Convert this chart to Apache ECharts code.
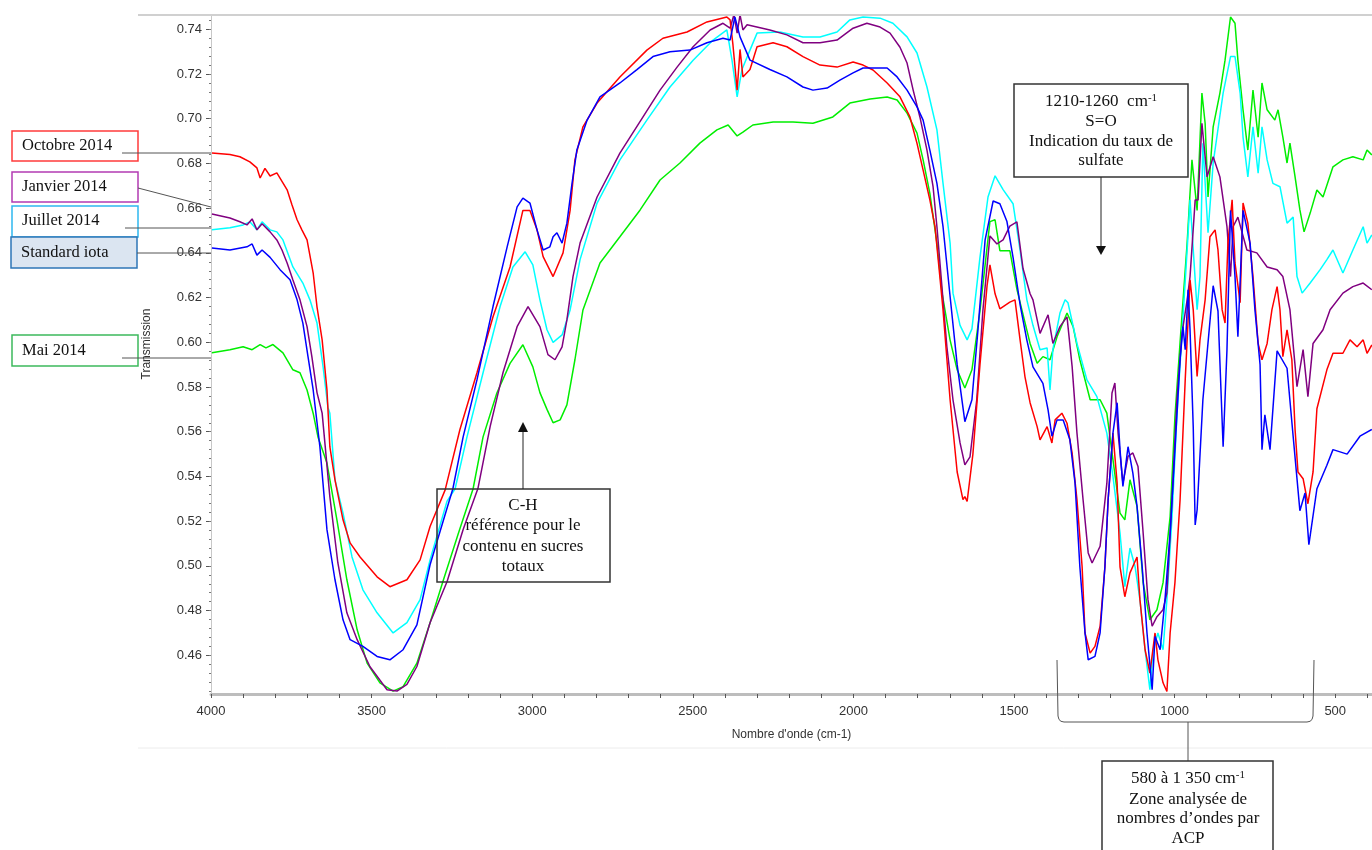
<!DOCTYPE html>
<html><head><meta charset="utf-8">
<script src="https://cdn.jsdelivr.net/npm/echarts@6/dist/echarts.min.js"></script>
<style>html,body{margin:0;padding:0;background:#fff}#c{width:1372px;height:850px}</style>
</head><body><div id="c"></div>
<script>
// Tick labels
const xLabelValues = [4000,3500,3000,2500,2000,1500,1000,500];
const yLabelValues = [0.46,0.48,0.50,0.52,0.54,0.56,0.58,0.60,0.62,0.64,0.66,0.68,0.70,0.72,0.74];

// Series: [wavenumber cm-1, transmission]
const octobre2014 = [[3997,0.6847],[3941,0.684],[3910,0.683],[3879,0.6807],[3857,0.678],[3847,0.6735],[3832,0.6778],[3816,0.6744],[3795,0.6758],[3779,0.672],[3763,0.6682],[3748,0.6615],[3732,0.6548],[3717,0.6503],[3701,0.6458],[3682,0.6311],[3670,0.6159],[3654,0.6011],[3639,0.5788],[3630,0.5533],[3614,0.5385],[3589,0.5206],[3567,0.5103],[3536,0.504],[3483,0.4951],[3443,0.4907],[3390,0.4938],[3349,0.5027],[3318,0.5176],[3271,0.534],[3225,0.561],[3172,0.5864],[3122,0.6114],[3069,0.6337],[3029,0.659],[3007,0.659],[2985,0.6503],[2966,0.6383],[2935,0.6294],[2904,0.64],[2882,0.659],[2867,0.6816],[2842,0.6964],[2798,0.707],[2727,0.7187],[2643,0.7307],[2593,0.736],[2518,0.7388],[2456,0.7433],[2394,0.7455],[2384,0.7442],[2375,0.733],[2362,0.7128],[2353,0.731],[2344,0.7187],[2322,0.722],[2300,0.7322],[2250,0.734],[2207,0.7322],[2157,0.7278],[2104,0.724],[2051,0.7231],[2001,0.7254],[1970,0.724],[1939,0.7218],[1895,0.716],[1855,0.7098],[1824,0.7008],[1802,0.689],[1783,0.677],[1762,0.6637],[1746,0.6517],[1730,0.628],[1721,0.6145],[1699,0.5743],[1677,0.542],[1659,0.5296],[1653,0.531],[1646,0.5288],[1628,0.55],[1606,0.59],[1584,0.6252],[1575,0.6346],[1559,0.6217],[1544,0.615],[1513,0.618],[1497,0.619],[1481,0.601],[1466,0.5847],[1450,0.573],[1428,0.5623],[1419,0.5564],[1397,0.5623],[1382,0.555],[1372,0.5653],[1351,0.5683],[1335,0.5638],[1319,0.5504],[1304,0.5296],[1288,0.4996],[1279,0.47],[1263,0.461],[1248,0.464],[1232,0.473],[1217,0.4996],[1207,0.5296],[1192,0.5594],[1179,0.537],[1170,0.4996],[1155,0.4862],[1139,0.4969],[1117,0.504],[1108,0.4849],[1092,0.4625],[1077,0.4521],[1061,0.47],[1052,0.458],[1036,0.4477],[1024,0.4438],[1014,0.47],[999,0.4925],[983,0.5296],[967,0.5832],[952,0.628],[942,0.6145],[930,0.5847],[921,0.6011],[905,0.619],[890,0.6472],[874,0.6503],[865,0.6413],[852,0.6145],[843,0.6086],[834,0.6444],[821,0.6637],[812,0.6355],[796,0.6177],[787,0.6623],[772,0.6533],[756,0.6294],[740,0.5995],[728,0.5922],[712,0.5995],[697,0.6146],[681,0.6249],[672,0.6146],[663,0.5936],[650,0.6056],[635,0.5922],[625,0.561],[616,0.542],[600,0.539],[585,0.5278],[569,0.542],[557,0.5703],[526,0.5877],[507,0.5951],[476,0.5951],[454,0.6011],[432,0.598],[413,0.6011],[401,0.5951],[386,0.5988]];

const janvier2014 = [[3997,0.6574],[3941,0.6556],[3910,0.6539],[3888,0.6525],[3872,0.6552],[3857,0.6503],[3841,0.653],[3816,0.6494],[3795,0.6458],[3779,0.6413],[3763,0.6355],[3745,0.6279],[3723,0.619],[3701,0.607],[3686,0.5936],[3670,0.5775],[3654,0.5683],[3630,0.531],[3605,0.5013],[3577,0.479],[3545,0.467],[3505,0.4549],[3452,0.4446],[3421,0.444],[3390,0.447],[3359,0.455],[3318,0.4746],[3265,0.493],[3215,0.5163],[3169,0.5346],[3131,0.5623],[3091,0.5864],[3047,0.607],[3013,0.616],[2976,0.607],[2951,0.5945],[2929,0.5922],[2907,0.598],[2892,0.61],[2873,0.6294],[2851,0.6444],[2798,0.665],[2727,0.6846],[2655,0.7008],[2602,0.7128],[2549,0.7231],[2499,0.7322],[2446,0.7397],[2406,0.7427],[2384,0.7405],[2372,0.7465],[2362,0.7383],[2353,0.7465],[2344,0.7397],[2331,0.742],[2260,0.7397],[2207,0.7375],[2157,0.734],[2104,0.734],[2051,0.7352],[2001,0.7405],[1958,0.7427],[1917,0.741],[1886,0.7383],[1855,0.732],[1833,0.7249],[1814,0.7128],[1793,0.7008],[1771,0.686],[1752,0.6696],[1740,0.6517],[1730,0.6346],[1709,0.598],[1690,0.5743],[1668,0.555],[1653,0.5452],[1637,0.5488],[1616,0.5743],[1597,0.614],[1575,0.6476],[1553,0.644],[1534,0.6458],[1513,0.652],[1491,0.6539],[1472,0.633],[1450,0.6217],[1441,0.619],[1419,0.604],[1394,0.6123],[1379,0.5995],[1357,0.607],[1335,0.6114],[1319,0.589],[1304,0.5594],[1285,0.5296],[1269,0.5058],[1257,0.5013],[1232,0.5088],[1211,0.537],[1195,0.5773],[1186,0.5818],[1176,0.5594],[1161,0.537],[1145,0.549],[1130,0.5505],[1114,0.5445],[1098,0.5147],[1083,0.4849],[1070,0.473],[1055,0.4773],[1036,0.4804],[1024,0.488],[1008,0.5296],[993,0.5743],[977,0.604],[961,0.619],[952,0.6294],[936,0.6637],[927,0.6637],[915,0.698],[899,0.674],[880,0.683],[859,0.674],[837,0.6517],[826,0.6294],[818,0.6517],[803,0.656],[775,0.6413],[744,0.64],[712,0.6337],[681,0.6325],[663,0.6294],[641,0.6146],[619,0.5802],[600,0.5967],[585,0.5757],[569,0.5995],[538,0.6056],[516,0.6146],[476,0.622],[445,0.6249],[413,0.6265],[386,0.6235]];

const juillet2014 = [[3997,0.6503],[3941,0.6512],[3900,0.6525],[3879,0.6539],[3857,0.6503],[3841,0.6539],[3816,0.6503],[3795,0.6494],[3776,0.6458],[3745,0.6337],[3714,0.6265],[3692,0.619],[3670,0.6086],[3651,0.589],[3636,0.571],[3630,0.5683],[3614,0.5385],[3589,0.5236],[3561,0.504],[3527,0.4893],[3483,0.479],[3433,0.47],[3390,0.4746],[3349,0.4849],[3318,0.5027],[3265,0.529],[3240,0.5345],[3203,0.5577],[3153,0.5864],[3100,0.616],[3060,0.6337],[3022,0.6405],[2998,0.6346],[2976,0.619],[2954,0.6056],[2935,0.6],[2907,0.6033],[2882,0.6145],[2851,0.637],[2798,0.6623],[2727,0.6816],[2643,0.6994],[2571,0.7142],[2499,0.7262],[2437,0.7352],[2394,0.7397],[2378,0.7262],[2362,0.7098],[2347,0.722],[2322,0.7307],[2300,0.7383],[2229,0.7388],[2157,0.7366],[2104,0.7366],[2051,0.7388],[2011,0.7442],[1970,0.7455],[1917,0.745],[1877,0.7427],[1833,0.7366],[1802,0.7294],[1771,0.7142],[1740,0.695],[1721,0.6711],[1699,0.6444],[1690,0.622],[1668,0.6076],[1646,0.6011],[1631,0.606],[1606,0.638],[1581,0.665],[1559,0.6745],[1534,0.6683],[1503,0.662],[1481,0.641],[1460,0.619],[1441,0.6076],[1419,0.5967],[1397,0.5975],[1388,0.5787],[1379,0.5967],[1357,0.6131],[1341,0.619],[1332,0.6177],[1304,0.5995],[1273,0.5832],[1242,0.5757],[1211,0.5594],[1192,0.54],[1170,0.5147],[1155,0.4907],[1139,0.508],[1123,0.4996],[1108,0.4849],[1092,0.4625],[1077,0.4446],[1067,0.4625],[1052,0.47],[1036,0.4625],[1024,0.4849],[1008,0.522],[993,0.5668],[977,0.604],[961,0.6414],[952,0.6637],[930,0.6146],[921,0.6294],[912,0.689],[896,0.649],[880,0.6802],[849,0.7115],[826,0.7278],[812,0.7278],[796,0.7115],[787,0.6918],[772,0.674],[756,0.6964],[740,0.6757],[728,0.6964],[712,0.6816],[694,0.6711],[672,0.6696],[650,0.6533],[631,0.656],[619,0.6294],[603,0.622],[578,0.6265],[547,0.6325],[526,0.637],[507,0.6413],[476,0.631],[445,0.6413],[413,0.6517],[401,0.6444],[386,0.648]];

const standardIota = [[3997,0.6422],[3941,0.6413],[3888,0.6427],[3872,0.644],[3857,0.639],[3841,0.6413],[3816,0.638],[3785,0.6325],[3754,0.628],[3732,0.619],[3714,0.6086],[3698,0.5936],[3682,0.5788],[3661,0.5533],[3639,0.5162],[3614,0.4938],[3589,0.4759],[3567,0.467],[3527,0.464],[3483,0.4595],[3443,0.458],[3402,0.4625],[3359,0.4736],[3318,0.5005],[3247,0.5345],[3215,0.5577],[3172,0.5832],[3122,0.616],[3078,0.6427],[3047,0.6606],[3029,0.6645],[3007,0.6623],[2985,0.6503],[2966,0.6413],[2945,0.6427],[2935,0.6472],[2923,0.649],[2907,0.6444],[2892,0.6533],[2876,0.6711],[2861,0.686],[2829,0.6994],[2789,0.7098],[2727,0.716],[2674,0.722],[2624,0.7278],[2571,0.73],[2509,0.7307],[2456,0.734],[2406,0.736],[2384,0.7352],[2369,0.7455],[2353,0.7366],[2322,0.7262],[2260,0.722],[2207,0.7187],[2157,0.7142],[2126,0.7128],[2082,0.7137],[2042,0.7173],[2001,0.7205],[1970,0.7227],[1895,0.7227],[1864,0.7187],[1833,0.7128],[1802,0.7053],[1783,0.6994],[1762,0.686],[1740,0.6711],[1721,0.6517],[1699,0.6205],[1677,0.59],[1653,0.5645],[1631,0.5743],[1612,0.606],[1590,0.6458],[1565,0.6632],[1544,0.662],[1522,0.654],[1503,0.638],[1481,0.6168],[1460,0.601],[1441,0.589],[1410,0.5816],[1394,0.5698],[1382,0.558],[1366,0.5653],[1347,0.5653],[1326,0.5564],[1310,0.537],[1295,0.4996],[1279,0.47],[1269,0.458],[1248,0.4595],[1232,0.47],[1217,0.4996],[1207,0.5296],[1192,0.5594],[1179,0.573],[1170,0.552],[1161,0.5355],[1145,0.5533],[1130,0.5415],[1117,0.5266],[1101,0.4996],[1086,0.47],[1070,0.4446],[1061,0.4684],[1045,0.4625],[1030,0.4849],[1014,0.5147],[999,0.552],[983,0.5922],[974,0.607],[967,0.5967],[958,0.6235],[952,0.6056],[942,0.562],[936,0.5183],[930,0.525],[912,0.5743],[880,0.6253],[865,0.614],[849,0.5533],[837,0.5967],[826,0.659],[812,0.6294],[803,0.6025],[787,0.659],[765,0.6444],[750,0.6146],[734,0.59],[728,0.552],[719,0.5676],[703,0.552],[681,0.5962],[650,0.5884],[631,0.558],[610,0.5247],[594,0.5326],[582,0.5095],[557,0.5345],[526,0.545],[507,0.552],[463,0.55],[423,0.558],[386,0.561]];

const mai2014 = [[3997,0.5953],[3941,0.5967],[3900,0.598],[3872,0.5967],[3847,0.599],[3829,0.5975],[3807,0.599],[3776,0.5953],[3745,0.5877],[3723,0.5864],[3701,0.5787],[3682,0.5683],[3667,0.5577],[3639,0.546],[3608,0.5206],[3577,0.4938],[3545,0.4714],[3514,0.4565],[3474,0.4477],[3433,0.444],[3402,0.446],[3359,0.4565],[3318,0.4746],[3278,0.493],[3231,0.514],[3184,0.5345],[3153,0.5577],[3110,0.5773],[3069,0.5906],[3029,0.5989],[2998,0.589],[2976,0.5775],[2954,0.57],[2935,0.564],[2913,0.5653],[2892,0.572],[2867,0.5922],[2842,0.6145],[2789,0.6355],[2727,0.6472],[2664,0.6592],[2602,0.6726],[2540,0.6802],[2478,0.6891],[2425,0.695],[2390,0.6972],[2362,0.6923],[2344,0.694],[2313,0.6972],[2250,0.6985],[2188,0.6985],[2126,0.698],[2064,0.7008],[2011,0.707],[1948,0.7088],[1895,0.7097],[1864,0.7084],[1833,0.7025],[1802,0.6936],[1783,0.6816],[1762,0.6666],[1740,0.6444],[1724,0.622],[1699,0.601],[1677,0.5877],[1653,0.5796],[1631,0.5877],[1606,0.614],[1575,0.654],[1559,0.6548],[1544,0.641],[1513,0.641],[1491,0.6237],[1450,0.5995],[1428,0.5906],[1410,0.5936],[1388,0.5922],[1366,0.6025],[1335,0.6131],[1316,0.607],[1295,0.5922],[1263,0.5743],[1232,0.5743],[1211,0.5683],[1192,0.5475],[1170,0.5236],[1155,0.5206],[1139,0.5385],[1117,0.5266],[1098,0.4925],[1077,0.4759],[1055,0.4804],[1036,0.4925],[1014,0.522],[999,0.5668],[983,0.6],[961,0.6444],[946,0.6816],[930,0.659],[915,0.7115],[905,0.698],[896,0.665],[880,0.6964],[859,0.7115],[843,0.7262],[826,0.7455],[812,0.7427],[803,0.7262],[787,0.704],[772,0.686],[756,0.7128],[740,0.6918],[728,0.716],[712,0.704],[688,0.6994],[678,0.704],[663,0.6918],[650,0.6802],[641,0.6891],[625,0.674],[610,0.6592],[597,0.6494],[578,0.6578],[557,0.6681],[538,0.665],[507,0.6785],[476,0.6816],[445,0.683],[413,0.6816],[401,0.686],[386,0.6838]];

const seriesDefs = [
  {name:'Mai 2014', data:mai2014, color:'#00ee00'},
  {name:'Juillet 2014', data:juillet2014, color:'#00ffff'},
  {name:'Janvier 2014', data:janvier2014, color:'#800080'},
  {name:'Octobre 2014', data:octobre2014, color:'#ff0000'},
  {name:'Standard iota', data:standardIota, color:'#0000ff'}
];

const xTicks = []; for (let v = 4000; v >= 400; v -= 100) xTicks.push(v);
const yMinorTicks = []; for (let i = 111; i <= 186; i++) yMinorTicks.push(+(i*0.004).toFixed(3));

const serif = '"Liberation Serif","Times New Roman",serif';
const sans = '"Liberation Sans",Arial,sans-serif';
function box(x,y,w,h,stroke,fill){ return {type:'rect', z:100, shape:{x:x,y:y,width:w,height:h}, style:{stroke:stroke, fill:fill||'none', lineWidth:1.5}}; }
function seg(x1,y1,x2,y2,c,w){ return {type:'line', z:100, shape:{x1:x1,y1:y1,x2:x2,y2:y2}, style:{stroke:c||'#555', lineWidth:w||1}}; }
function txt(t,x,y,align,size){ return {type:'text', z:101, style:{text:t, x:x, y:y, font:(size||16.5)+'px '+serif, fill:'#111', align:align||'left', verticalAlign:'middle'}}; }
function supTxt(a,s,x,y){ return {type:'text', z:101, style:{text:'{a|'+a+'}{s|'+s+'}', x:x, y:y, align:'center', verticalAlign:'middle',
  rich:{a:{font:'17px '+serif, fill:'#111', lineHeight:18}, s:{font:'11px '+serif, fill:'#111', verticalAlign:'top', lineHeight:11}}}}; }

const graphics = [
  seg(138,15,1372,15,'#d0d0d0',2),
  seg(138,748,1372,748,'#ececec',1),
  {type:'text', z:101, x:147, y:344, rotation:Math.PI/2, style:{text:'Transmission', x:0, y:0, font:'12px '+sans, fill:'#333', align:'center', verticalAlign:'middle'}},
  box(12,131,126,30,'#ff3b3b'), txt('Octobre 2014',22,146), seg(122,153,211,153),
  box(12,172,126,30,'#b23bb2'), txt('Janvier 2014',22,187), seg(138,188,211,207),
  box(12,206,126,31,'#2eb8f0'), txt('Juillet 2014',22,221), seg(125,228,211,228),
  box(11,237,126,31,'#2e75b6','#dbe5f1'), txt('Standard iota',21,253), seg(137,253,211,253),
  box(12,335,126,31,'#3cb95c'), txt('Mai 2014',22,351), seg(122,358,211,358),
  box(1014,84,174,93,'#333','#fff'),
  supTxt('1210-1260  cm','-1',1101,102),
  txt('S=O',1101,122,'center',17), txt('Indication du taux de',1101,142,'center',17), txt('sulfate',1101,161,'center',17),
  seg(1101,177,1101,248,'#222',1),
  {type:'polygon', z:100, shape:{points:[[1096,246],[1106,246],[1101,255]]}, style:{fill:'#111'}},
  box(437,489,173,93,'#333','none'),
  txt('C-H',523,506,'center',17), txt('référence pour le',523,526,'center',17), txt('contenu en sucres',523,547,'center',17), txt('totaux',523,567,'center',17),
  seg(523,489,523,430,'#222',1),
  {type:'polygon', z:100, shape:{points:[[518,432],[528,432],[523,422]]}, style:{fill:'#111'}},
  {type:'polyline', z:100, shape:{points:[[1057,660],[1058,716],[1059,719.5],[1061,721.3],[1064,722],[1307,722],[1310,721.3],[1312,719.5],[1313,716],[1314,660]]}, style:{stroke:'#555', fill:'none', lineWidth:1}},
  seg(1188,722,1188,761,'#555',1),
  box(1102,761,171,100,'#333','#fff'),
  supTxt('580 à 1 350 cm','-1',1188,779),
  txt('Zone analysée de',1188,800,'center',17), txt('nombres d’ondes par',1188,819,'center',17), txt('ACP',1188,839,'center',17)
];

const chart = echarts.init(document.getElementById('c'), null, {renderer:'canvas'});
chart.setOption({
  animation:false,
  backgroundColor:'#fff',
  grid:{left:211, right:0, top:15, bottom:156, containLabel:false},
  xAxis:{type:'value', inverse:true, min:385.5, max:4000,
    name:"Nombre d'onde (cm-1)", nameLocation:'middle', nameGap:35,
    nameTextStyle:{fontFamily:sans, fontSize:12, color:'#333'},
    axisLine:{show:true, lineStyle:{color:'#bdbdbd', width:3}},
    axisTick:{show:true, customValues:xTicks, length:4, lineStyle:{color:'#555'}},
    axisLabel:{customValues:xLabelValues, margin:11, formatter:function(v){return String(Math.round(v));}, fontFamily:sans, fontSize:13, color:'#333'},
    splitLine:{show:false}},
  yAxis:[{type:'value', min:0.4427, max:0.7464, position:'left',
    axisLine:{show:true, lineStyle:{color:'#c8c8c8', width:1}},
    axisTick:{show:true, customValues:yLabelValues, length:5, lineStyle:{color:'#555'}},
    axisLabel:{customValues:yLabelValues, margin:9, formatter:function(v){return v.toFixed(2);}, fontFamily:sans, fontSize:13, color:'#333'},
    splitLine:{show:false}},
   {type:'value', min:0.4427, max:0.7464, position:'left', offset:0,
    axisLine:{show:false}, axisLabel:{show:false}, splitLine:{show:false},
    axisTick:{show:true, customValues:yMinorTicks, length:2, lineStyle:{color:'#777'}}}],
  series: seriesDefs.map(function(s){ return {name:s.name, type:'line', data:s.data, showSymbol:false, symbol:'none', clip:true,
    lineStyle:{color:s.color, width:1.5}, itemStyle:{color:s.color}, z:2}; }),
  graphic:{elements:graphics}
});
</script>
</body></html>
